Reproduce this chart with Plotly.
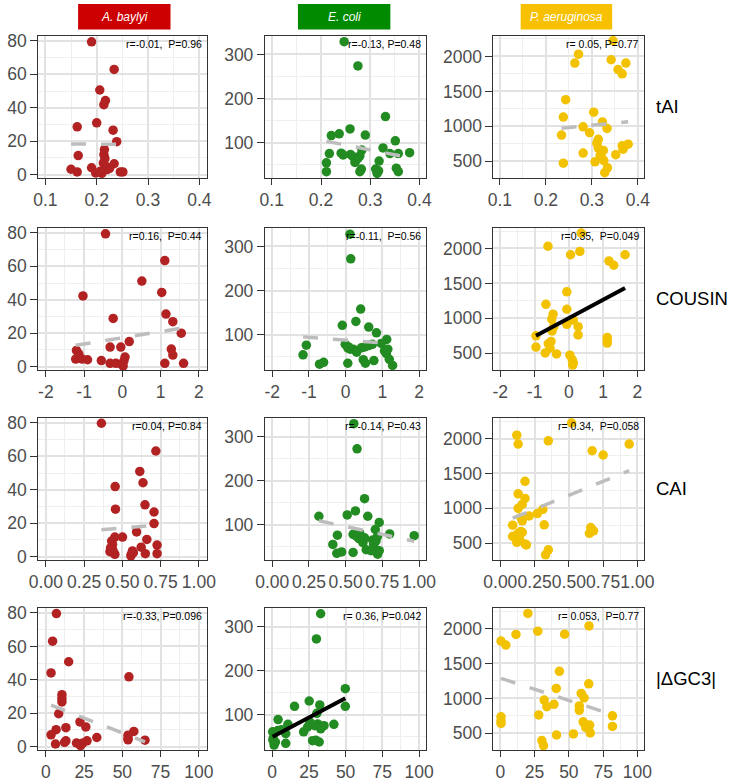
import numpy as np
import plotly.graph_objects as go

# ---------------- data ----------------
organisms = ["A. baylyi", "E. coli", "P. aeruginosa"]
metrics = ["tAI", "COUSIN", "CAI", "|ΔGC3|"]

# A. baylyi
ab_tai_x = [0.190,0.234,0.206,0.217,0.214,0.200,0.162,0.232,0.239,0.164,0.150,0.162,0.190,0.198,0.215,0.214,0.216,0.213,0.218,0.220,0.207,0.234,0.246,0.251,0.225,0.210]
ab_tai_y = [79.4,62.9,50.6,44.3,41.8,31.0,28.6,26.6,19.7,11.4,3.2,1.6,4.1,1.0,15.0,12.0,9.5,7.0,5.0,3.0,2.0,6.5,1.6,1.6,3.7,0.8]
ab_cou_x = [-0.44,1.11,0.51,1.03,-1.03,1.14,-0.24,1.32,1.54,0.18,-0.32,-0.04,1.28,-1.20,1.32,-1.14,-1.22,-1.05,-0.91,-0.55,-0.32,-0.17,1.11,1.60,-0.02,0.07,0.04,0.02]
ab_cou_y = [79.4,63.4,51.2,44.4,42.3,31.4,28.8,26.9,20.0,15.0,11.7,11.7,10.5,9.7,6.9,7.7,4.5,4.5,4.1,3.6,2.0,2.0,2.0,2.0,1.4,5.7,3.4,0.4]
ab_cai_x = [0.363,0.719,0.614,0.635,0.453,0.648,0.455,0.707,0.707,0.593,0.501,0.451,0.660,0.430,0.727,0.436,0.623,0.419,0.444,0.451,0.566,0.558,0.650,0.727,0.556,0.572,0.436,0.423]
ab_cai_y = [79.8,63.2,51.0,44.2,41.9,31.0,28.4,26.7,19.8,14.8,11.7,11.7,10.3,9.3,6.9,7.3,5.7,3.0,2.4,1.4,3.4,1.4,1.8,1.8,0.4,2.4,4.3,5.3]
ab_gc3_x = [6.9,4.4,14.9,3.4,54.3,10.5,10.5,10.5,8.4,22.3,13.1,26.1,57.5,6.7,3.4,53.7,33.3,53.7,64.8,13.1,12.2,6.3,20.0,22.1,24.2,26.9,22.7,53.7]
ab_gc3_y = [79.6,63.1,50.8,44.1,41.8,31.1,28.8,26.8,19.7,14.8,11.4,11.8,9.1,10.2,7.1,6.9,5.5,4.1,3.9,3.5,2.6,1.6,2.2,1.6,2.2,3.5,0.6,5.1]

# E. coli
ec_tai_x = [0.247,0.275,0.331,0.259,0.221,0.237,0.290,0.351,0.326,0.217,0.241,0.260,0.265,0.279,0.283,0.340,0.357,0.380,0.271,0.269,0.211,0.211,0.318,0.282,0.279,0.311,0.314,0.317,0.353,0.357,0.275,0.245]
ec_tai_y = [329,274,159,131,116,120,117,104,88,75,76,73,68,70,83,75,75,77,60,55,54,34,58,40,34,40,30,36,42,34,64,72]
ec_cou_x = [0.12,0.14,0.41,0.28,-0.09,0.63,0.84,1.12,-1.07,-1.16,-0.71,-0.60,-0.01,0.06,0.12,0.21,0.30,0.43,0.52,0.63,0.73,0.97,1.06,1.11,1.15,0.06,0.48,0.54,0.77,1.19,1.28,0.08]
ec_cou_y = [328,272,158,130,121,117,104,89,76,54,33,37,78,70,67,67,60,70,72,75,78,80,63,57,67,35,43,35,41,44,30,72]
ec_cai_x = [0.556,0.578,0.629,0.567,0.511,0.651,0.318,0.729,0.702,0.800,0.967,0.444,0.413,0.440,0.473,0.551,0.551,0.573,0.591,0.611,0.629,0.684,0.691,0.707,0.718,0.640,0.673,0.707,0.718,0.729,0.596,0.618]
ec_cai_y = [329,272,159,131,122,119,119,105,89,79,75,76,55,35,38,37,78,74,68,65,70,65,55,63,74,43,41,43,33,41,81,59]
ec_gc3_x = [33.0,30.1,49.8,25.2,15.2,32.4,49.8,4.0,10.7,42.0,0.3,3.8,6.3,9.2,0.7,2.2,1.3,9.2,21.4,24.1,26.3,29.0,31.0,33.0,35.3,27.5,29.7,32.0,30.4,25.7,33.7,0.5]
ec_gc3_y = [329,272,159,131,119,122,119,89,78,78,61,64,66,57,46,38,31,35,61,72,79,75,79,68,75,41,42,38,103,83,72,42]

# P. aeruginosa
pa_tai_x = [0.346,0.271,0.263,0.342,0.374,0.357,0.366,0.243,0.238,0.304,0.323,0.281,0.234,0.295,0.333,0.314,0.311,0.314,0.325,0.366,0.379,0.368,0.352,0.281,0.318,0.326,0.307,0.334,0.328,0.238,0.321]
pa_tai_y = [2225,2033,1906,1953,1906,1812,1752,1381,1133,1203,1063,992,875,908,969,814,758,688,655,720,744,673,594,617,584,509,491,406,336,472,556]
pa_cou_x = [0.36,-0.61,0.05,0.32,1.64,1.17,1.31,-0.06,-0.67,-0.06,-0.46,-0.50,0.13,-0.06,0.27,-0.49,-0.96,0.27,-0.52,-0.60,1.12,1.12,-0.96,-0.55,-0.69,-0.36,0.03,0.10,0.11,-0.44,0.13,1.12]
pa_cou_y = [2220,2032,1910,1957,1910,1821,1760,1379,1200,1130,1059,989,975,914,881,820,749,763,669,636,726,646,589,575,505,491,472,406,331,880,364,693]
pa_cai_x = [0.52,0.12,0.13,0.35,0.94,0.67,0.75,0.18,0.13,0.18,0.16,0.13,0.31,0.27,0.21,0.16,0.09,0.32,0.15,0.13,0.66,0.68,0.65,0.09,0.14,0.12,0.18,0.19,0.35,0.33,0.16,0.15]
pa_cai_y = [2222,2047,1920,1967,1920,1825,1764,1387,1208,1142,1057,1000,986,925,892,821,759,764,670,642,726,679,642,599,561,514,491,476,406,335,655,868]
pa_gc3_x = [20.1,64.7,27.3,46.9,11.4,0.5,4.0,43.1,64.5,40.8,59.0,61.1,32.0,39.1,33.9,57.6,57.6,28.0,81.8,0.5,0.5,0.5,60.4,61.6,65.2,62.3,81.8,65.6,41.0,53.3,30.3,31.5]
pa_gc3_y = [2217,2038,1962,1920,1915,1821,1764,1387,1208,1142,1071,1009,976,915,882,892,830,764,750,736,679,642,665,632,618,585,599,505,476,491,396,325]

stats_text = [
    ["r=-0.01,  P=0.96", "r=-0.13, P=0.48", "r= 0.05, P=0.77"],
    ["r=0.16,  P=0.44", "r=-0.11,  P=0.56", "r=0.35,  P=0.049"],
    ["r=0.04, P=0.84", "r= -0.14, P=0.43", "r= 0.34,  P=0.058"],
    ["r=-0.33, P=0.096", "r= 0.36, P=0.042", "r= 0.053,  P=0.77"],
]
significant = [[False, False, False], [False, False, True], [False, False, False], [False, True, False]]

panels = [
    [(ab_tai_x, ab_tai_y), (ec_tai_x, ec_tai_y), (pa_tai_x, pa_tai_y)],
    [(ab_cou_x, ab_cou_y), (ec_cou_x, ec_cou_y), (pa_cou_x, pa_cou_y)],
    [(ab_cai_x, ab_cai_y), (ec_cai_x, ec_cai_y), (pa_cai_x, pa_cai_y)],
    [(ab_gc3_x, ab_gc3_y), (ec_gc3_x, ec_gc3_y), (pa_gc3_x, pa_gc3_y)],
]

x_tickvals = [[0.1, 0.2, 0.3, 0.4], [-2, -1, 0, 1, 2], [0, 0.25, 0.5, 0.75, 1.0], [0, 25, 50, 75, 100]]
x_ticktext = [["0.1", "0.2", "0.3", "0.4"], ["-2", "-1", "0", "1", "2"],
              ["0.00", "0.25", "0.50", "0.75", "1.00"], ["0", "25", "50", "75", "100"]]
y_tickvals = [[0, 20, 40, 60, 80], [100, 200, 300], [500, 1000, 1500, 2000]]
y_ticktext = [["0", "20", "40", "60", "80"], ["100", "200", "300"], ["500", "1000", "1500", "2000"]]

# ---------------- styling / layout ----------------
W, H = 735, 782
point_colors = ["#B22222", "#228B22", "#F2C200"]
header_colors = ["#CC0000", "#008A00", "#F7C000"]
col_px = [(29, 202), (262, 428), (497, 652)]
row_px = [(32, 177), (227, 372), (420, 565), (613, 758)]
header_px = [(70, 165), (296, 391), (525, 619)]

x_ranges = [[0.086, 0.414], [-2.2, 2.2], [-0.05, 1.05], [-5, 105]]
x_minor = [0.05, 0.5, 0.125, 12.5]
y_ranges = [[-2.2, 83.2], [19, 343], [256, 2300]]
y_minor = [10, 50, 250]

fig = go.Figure()
layout = dict(
    width=W, height=H, margin=dict(l=0, r=0, t=0, b=0),
    paper_bgcolor="white", plot_bgcolor="white", showlegend=False,
    font=dict(family="Liberation Sans, Arial, sans-serif"),
)
annotations = []
shapes = []

tickfont = dict(size=17.5, color="#4d4d4d", family="Liberation Sans, Arial, sans-serif")
grid_major = "#e2e2e2"
grid_minor = "#efefef"

for i in range(4):
    for j in range(3):
        idx = i * 3 + j + 1
        sfx = "" if idx == 1 else str(idx)
        xa, ya = "x" + sfx, "y" + sfx
        xs, ys = panels[i][j]
        l, r = col_px[j]
        t, b = row_px[i]
        layout["xaxis" + sfx] = dict(
            domain=[l / W, r / W], anchor=ya, range=x_ranges[i],
            tickmode="array", tickvals=x_tickvals[i], ticktext=x_ticktext[i], tickangle=0,
            ticks="outside", ticklen=6, tickwidth=1.2, tickcolor="#333333",
            tickfont=tickfont, showline=True, mirror=True, linecolor="#333333", linewidth=1,
            showgrid=True, gridcolor=grid_major, gridwidth=1.6, zeroline=False,
            minor=dict(dtick=x_minor[i], tick0=0, showgrid=True, gridcolor=grid_minor, gridwidth=1),
        )
        layout["yaxis" + sfx] = dict(
            domain=[1 - b / H, 1 - t / H], anchor=xa, range=y_ranges[j],
            tickmode="array", tickvals=y_tickvals[j], ticktext=y_ticktext[j],
            ticks="outside", ticklen=7, tickwidth=1.2, tickcolor="#333333",
            tickfont=tickfont, showline=True, mirror=True, linecolor="#333333", linewidth=1,
            showgrid=True, gridcolor=grid_major, gridwidth=1.6, zeroline=False,
            minor=dict(dtick=y_minor[j], tick0=0, showgrid=True, gridcolor=grid_minor, gridwidth=1),
        )
        fig.add_trace(go.Scatter(
            x=xs, y=ys, mode="markers", xaxis=xa, yaxis=ya,
            marker=dict(size=9.5, color=point_colors[j], line=dict(width=0)),
            hoverinfo="skip",
        ))
        # linear fit computed from the data
        xarr, yarr = np.array(xs), np.array(ys)
        k, c = np.polyfit(xarr, yarr, 1)
        xl = np.array([xarr.min(), xarr.max()])
        if significant[i][j]:
            line = dict(color="black", width=4)
        else:
            line = dict(color="#bdbdbd", width=3.5, dash="15px,15px")
        fig.add_trace(go.Scatter(
            x=xl, y=k * xl + c, mode="lines", xaxis=xa, yaxis=ya, line=line, hoverinfo="skip",
        ))
        annotations.append(dict(
            text=stats_text[i][j].replace("  ", "\u00a0\u00a0"), xref="paper", yref="paper",
            x=(r - 3) / W, y=1 - (t + 9) / H, xanchor="right", yanchor="middle",
            showarrow=False, font=dict(size=10.5, color="black"),
        ))
    # row label on the right
    t, b = row_px[i]
    annotations.append(dict(
        text=metrics[i], xref="paper", yref="paper", x=662 / W, y=1 - ((t + b) / 2) / H,
        xanchor="left", yanchor="middle", showarrow=False, font=dict(size=18.5, color="black"),
    ))

for j in range(3):
    x0, x1 = header_px[j]
    shapes.append(dict(type="rect", xref="paper", yref="paper", x0=x0 / W, x1=x1 / W,
                       y0=1 - 26 / H, y1=1, fillcolor=header_colors[j], line=dict(width=0)))
    annotations.append(dict(
        text="<i>" + organisms[j] + "</i>", xref="paper", yref="paper",
        x=(x0 + x1) / 2 / W, y=1 - 13 / H, xanchor="center", yanchor="middle",
        showarrow=False, font=dict(size=12, color="white"),
    ))

layout["annotations"] = annotations
layout["shapes"] = shapes
fig.update_layout(**layout)
fig.write_html("out.html")
